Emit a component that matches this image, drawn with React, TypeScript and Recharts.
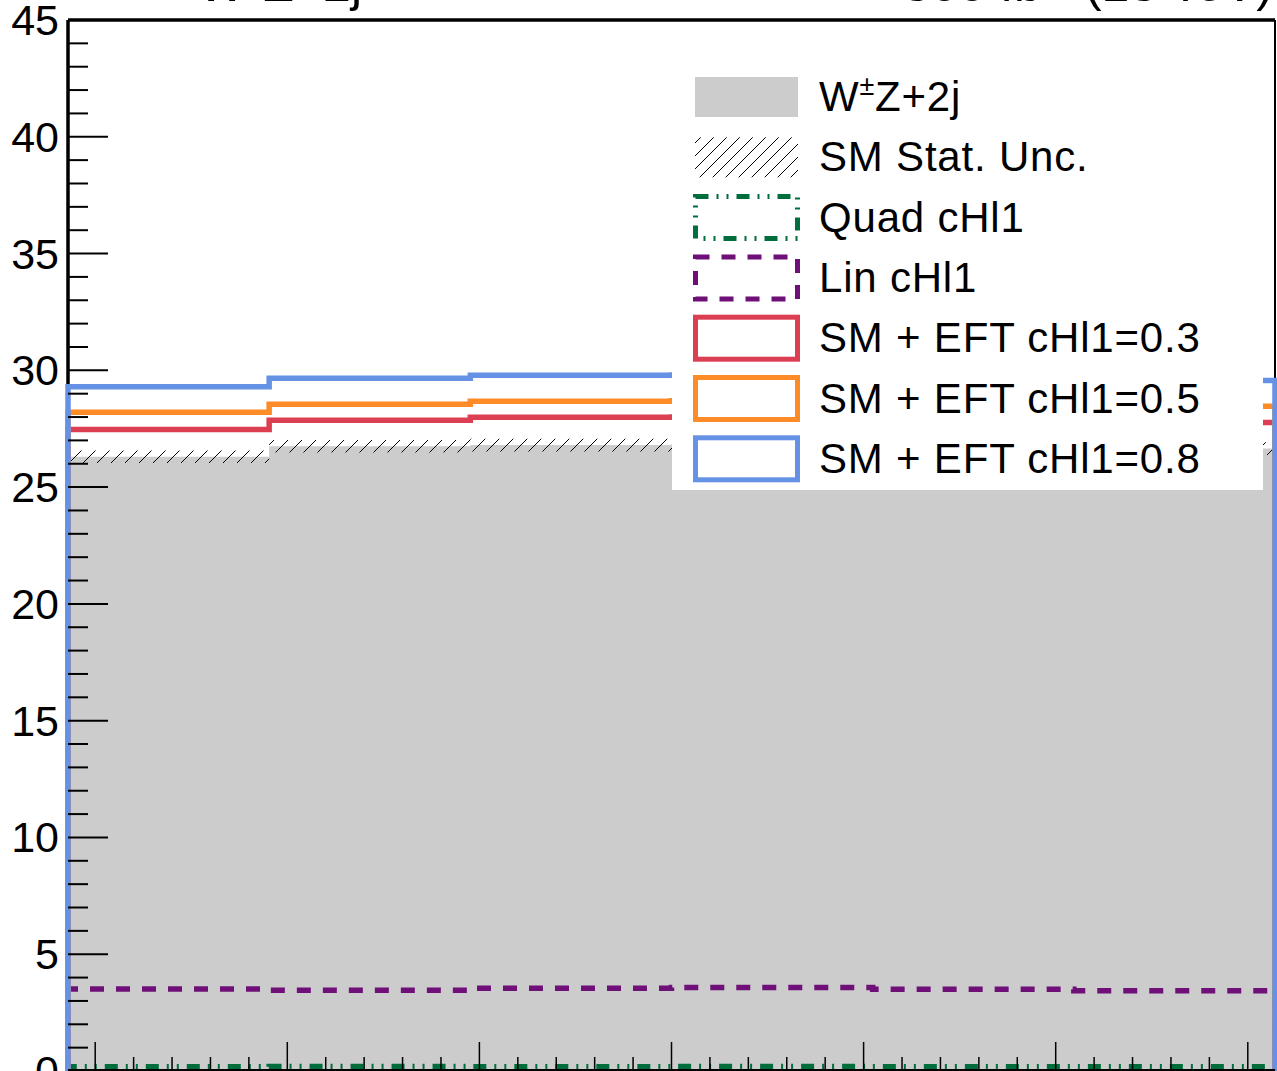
import React from 'react';
import {
  ComposedChart,
  Area,
  Line,
  XAxis,
  YAxis,
  ReferenceLine,
} from 'recharts';

// 6 bins in [-pi, pi]
const BIN_EDGES = [
  -Math.PI,
  (-2 * Math.PI) / 3,
  -Math.PI / 3,
  0,
  Math.PI / 3,
  (2 * Math.PI) / 3,
  Math.PI,
];

const SM = [26.3, 26.75, 26.8, 26.85, 26.75, 26.65];
const SM_UNC = [0.27, 0.27, 0.27, 0.27, 0.27, 0.27];
const QUAD_CHL1 = [0.18, 0.19, 0.18, 0.19, 0.18, 0.18];
const LIN_CHL1 = [3.51, 3.46, 3.54, 3.57, 3.5, 3.44];
const EFT_03 = [27.47, 27.86, 27.99, 28.0, 27.9, 27.77];
const EFT_05 = [28.2, 28.55, 28.68, 28.7, 28.6, 28.46];
const EFT_08 = [29.3, 29.66, 29.79, 29.8, 29.7, 29.57];

const Y_MAJOR = [0, 5, 10, 15, 20, 25, 30, 35, 40, 45];
const Y_TICKS = Array.from({ length: 46 }, (_, i) => i);
const X_MAJOR = [-3, -2, -1, 0, 1, 2, 3];
const X_TICKS = Array.from({ length: 31 }, (_, i) => Math.round((-3 + i * 0.2) * 10) / 10);

const LEGEND_LABELS = [
  'W±Z+2j',
  'SM Stat. Unc.',
  'Quad cHl1',
  'Lin cHl1',
  'SM + EFT cHl1=0.3',
  'SM + EFT cHl1=0.5',
  'SM + EFT cHl1=0.8',
];

const FONT = '"Liberation Sans", Arial, Helvetica, sans-serif';
const W = 1277;
const H = 1150;
const PLOT_LEFT = 68;

const C_GRAY = '#cccccc';
const C_GREEN = '#006e3c';
const C_PURPLE = '#6f0f78';
const C_RED = '#dc3e52';
const C_ORANGE = '#fd8c28';
const C_BLUE = '#6692e6';
const DASH_QUAD = '13 8 2 8 2 8';
const DASH_LIN = '14 12';
const LW = 5.5;

// histogram outline, dropping to zero at both ends
function outline(values: number[]) {
  const pts = [{ x: BIN_EDGES[0], y: 0 }];
  values.forEach((v, i) => pts.push({ x: BIN_EDGES[i], y: v }));
  pts.push({ x: BIN_EDGES[BIN_EDGES.length - 1], y: values[values.length - 1] });
  pts.push({ x: BIN_EDGES[BIN_EDGES.length - 1], y: 0 });
  return pts;
}

function filled(values: number[]) {
  const pts = values.map((v, i) => ({ x: BIN_EDGES[i], y: v }));
  pts.push({ x: BIN_EDGES[BIN_EDGES.length - 1], y: values[values.length - 1] });
  return pts;
}

function band(values: number[], unc: number[]) {
  const pts = values.map((v, i) => ({ x: BIN_EDGES[i], r: [v - unc[i], v + unc[i]] }));
  const n = values.length - 1;
  pts.push({ x: BIN_EDGES[BIN_EDGES.length - 1], r: [values[n] - unc[n], values[n] + unc[n]] });
  return pts;
}

function YTick(props: any) {
  const { y, payload } = props;
  const v = payload.value;
  const major = Y_MAJOR.includes(v);
  return (
    <g>
      <line x1={PLOT_LEFT} x2={PLOT_LEFT + (major ? 40 : 20)} y1={y} y2={y} stroke="#000" strokeWidth={2} />
      {major && (
        <text x={59} y={y} textAnchor="end" dominantBaseline="central" fontSize={43} fontFamily={FONT} fill="#000">
          {v}
        </text>
      )}
    </g>
  );
}

function XTick(props: any) {
  const { x, payload } = props;
  const v = payload.value;
  const major = X_MAJOR.some((m) => Math.abs(m - v) < 1e-6);
  const base = 1071;
  return (
    <g>
      <line x1={x} x2={x} y1={base} y2={base - (major ? 29 : 14)} stroke="#000" strokeWidth={1.5} />
      {major && (
        <text x={x} y={base + 45} textAnchor="middle" fontSize={43} fontFamily={FONT} fill="#000">
          {v}
        </text>
      )}
    </g>
  );
}

function Swatch({ kind, cy }: { kind: number; cy: number }) {
  const x = 23;
  if (kind === 0) return <rect x={x} y={cy - 20} width={103} height={40} fill={C_GRAY} />;
  if (kind === 1) return <rect x={x} y={cy - 20} width={103} height={40} fill="url(#legHatch)" />;
  const styles = [
    null,
    null,
    { c: C_GREEN, d: DASH_QUAD },
    { c: C_PURPLE, d: DASH_LIN },
    { c: C_RED, d: undefined },
    { c: C_ORANGE, d: undefined },
    { c: C_BLUE, d: undefined },
  ];
  const s = styles[kind]!;
  return (
    <rect x={x + 0.5} y={cy - 21} width={102} height={42} fill="none" stroke={s.c} strokeWidth={5} strokeDasharray={s.d} />
  );
}

function LegendBox() {
  const top = 62;
  return (
    <svg width={591} height={428} style={{ position: 'absolute', left: 672, top }}>
      <defs>
        <pattern id="legHatch" patternUnits="userSpaceOnUse" width={13} height={13}>
          <path d="M0,13 L13,0 M-3,3 L3,-3 M10,16 L16,10" stroke="#000" strokeWidth={1} />
        </pattern>
      </defs>
      <rect x={0} y={0} width={591} height={428} fill="#fff" />
      {LEGEND_LABELS.map((label, i) => {
        const cy = 97 + i * 60.3 - top;
        return (
          <g key={label}>
            <Swatch kind={i} cy={cy} />
            <text x={147} y={cy + 14} fontSize={42} letterSpacing={0.8} fontFamily={FONT} fill="#000">
              {i === 0 ? (
                <>
                  <tspan>W</tspan>
                  <tspan dy={-16} fontSize={27}>±</tspan>
                  <tspan dy={16}>Z+2j</tspan>
                </>
              ) : (
                label
              )}
            </text>
          </g>
        );
      })}
    </svg>
  );
}

export default function App() {
  return (
    <div style={{ position: 'absolute', left: 0, top: 0, width: W, height: 1071, overflow: 'hidden', background: '#fff' }}>
      <ComposedChart width={W} height={H} margin={{ top: 20, right: 2, bottom: 0, left: 0 }}>
        <defs>
          <pattern id="hatch" patternUnits="userSpaceOnUse" width={14} height={14}>
            <path d="M0,14 L14,0 M-3,3 L3,-3 M11,17 L17,11" stroke="#000" strokeWidth={1} />
          </pattern>
        </defs>
        <Area
          data={filled(SM)}
          dataKey="y"
          type="stepAfter"
          stroke="none"
          fill={C_GRAY}
          fillOpacity={1}
          isAnimationActive={false}
        />
        <Area
          data={band(SM, SM_UNC)}
          dataKey="r"
          type="stepAfter"
          stroke="none"
          fill="url(#hatch)"
          fillOpacity={1}
          isAnimationActive={false}
        />
        <XAxis
          dataKey="x"
          type="number"
          domain={[-Math.PI, Math.PI]}
          ticks={X_TICKS}
          interval={0}
          height={79}
          tick={<XTick />}
          tickLine={false}
          axisLine={{ stroke: '#000', strokeWidth: 4 }}
        />
        <YAxis
          type="number"
          domain={[0, 45]}
          ticks={Y_TICKS}
          interval={0}
          width={PLOT_LEFT}
          tick={<YTick />}
          tickLine={false}
          axisLine={false}
        />
        <ReferenceLine x={-Math.PI} stroke="#000" strokeWidth={3.5} />
        <ReferenceLine y={45} stroke="#000" strokeWidth={3.5} />
        <ReferenceLine x={Math.PI} stroke="#000" strokeWidth={2} />
        <Line data={outline(QUAD_CHL1)} dataKey="y" type="stepAfter" stroke={C_GREEN} strokeWidth={LW} strokeDasharray={DASH_QUAD} dot={false} isAnimationActive={false} />
        <Line data={outline(LIN_CHL1)} dataKey="y" type="stepAfter" stroke={C_PURPLE} strokeWidth={LW} strokeDasharray={DASH_LIN} dot={false} isAnimationActive={false} />
        <Line data={outline(EFT_03)} dataKey="y" type="stepAfter" stroke={C_RED} strokeWidth={LW} dot={false} isAnimationActive={false} />
        <Line data={outline(EFT_05)} dataKey="y" type="stepAfter" stroke={C_ORANGE} strokeWidth={LW} dot={false} isAnimationActive={false} />
        <Line data={outline(EFT_08)} dataKey="y" type="stepAfter" stroke={C_BLUE} strokeWidth={LW} dot={false} isAnimationActive={false} />
      </ComposedChart>
      <LegendBox />
      <svg width={W} height={30} style={{ position: 'absolute', left: 0, top: 0 }}>
        <text x={198} y={1} fontSize={50} fontFamily={FONT} fill="#000">
          <tspan>W</tspan>
          <tspan dy={-20} fontSize={33}>±</tspan>
          <tspan dy={20}>Z+2j</tspan>
        </text>
        <text x={1273} y={1} fontSize={50} fontFamily={FONT} fill="#000" textAnchor="end">
          <tspan>300 fb</tspan>
          <tspan dy={-20} fontSize={33}>-1</tspan>
          <tspan dy={20}> (13 TeV)</tspan>
        </text>
      </svg>
    </div>
  );
}
